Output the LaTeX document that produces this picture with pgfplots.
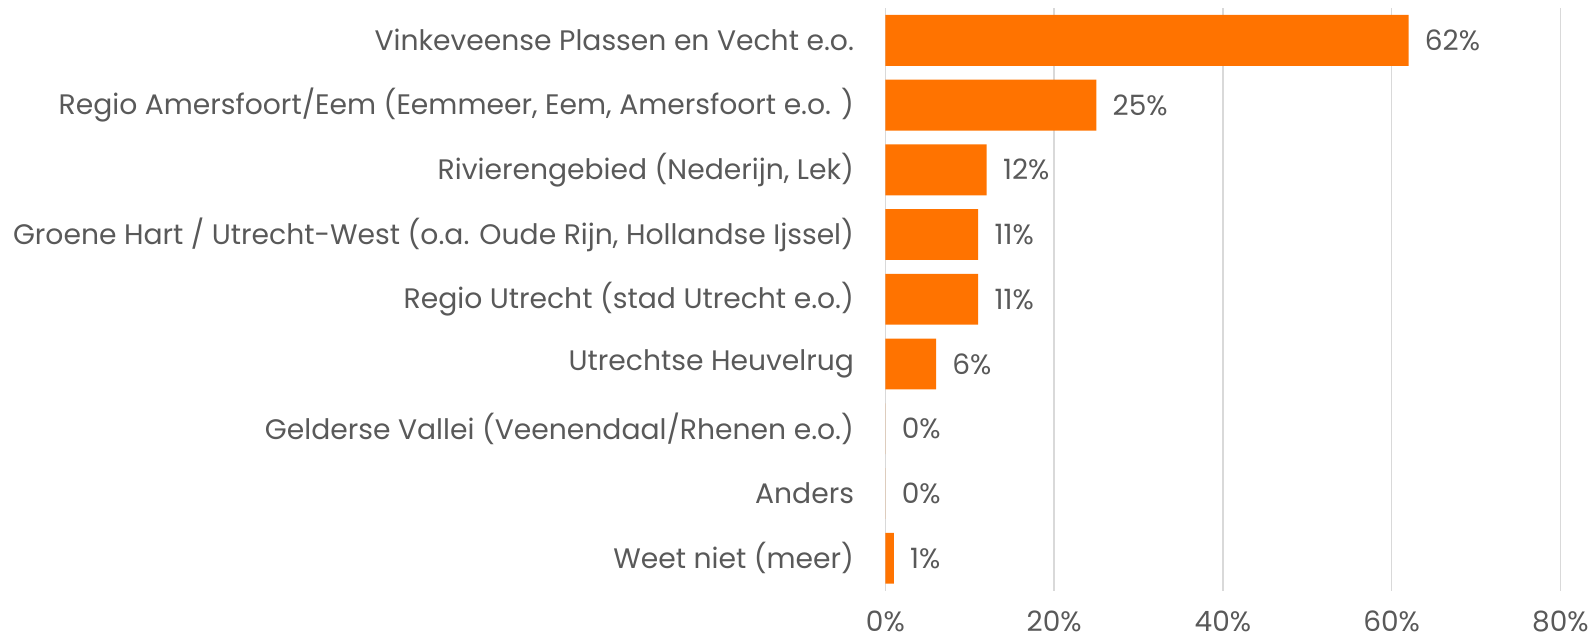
\documentclass[border=0pt]{standalone}
\usepackage{pgfplots}
\pgfplotsset{compat=1.18}
\usepackage{fontspec}
\setmainfont{Poppins}
\definecolor{barorange}{HTML}{FF7300}
\definecolor{txtgray}{HTML}{595959}
\definecolor{gridgray}{HTML}{D9D9D9}
\begin{document}
\begin{tikzpicture}
\begin{axis}[
  at={(0,0)}, anchor=south west,
  scale only axis, width=337.5pt, height=291.3pt,
  xbar, bar width=25.4pt,
  xmin=0, xmax=80, ymin=-0.5, ymax=8.5, y dir=reverse,
  axis line style={draw=none},
  xmajorgrids, grid style={gridgray, line width=0.8pt},
  xtick={0,20,40,60,80},
  ytick={0,...,8},
  major tick length=0pt,
  /pgf/number format/assume math mode=true,
  xticklabel={\pgfmathprintnumber{\tick}\%},
  yticklabels={Vinkeveense Plassen en Vecht e.o.,
    {Regio Amersfoort/Eem (Eemmeer, Eem, Amersfoort e.o. )},
    {Rivierengebied (Nederijn, Lek)},
    {Groene Hart / Utrecht-West (o.a. Oude Rijn, Hollandse Ijssel)},
    Regio Utrecht (stad Utrecht e.o.),
    Utrechtse Heuvelrug,
    Gelderse Vallei (Veenendaal/Rhenen e.o.),
    Anders,
    Weet niet (meer)},
  yticklabel style={font=\fontsize{14.1}{16}\selectfont, text=txtgray, inner sep=0pt, anchor=east, xshift=-15.5pt},
  xticklabel style={font=\fontsize{14}{16}\selectfont, text=txtgray, inner sep=0pt, anchor=north, yshift=-10pt},
  nodes near coords={\pgfmathprintnumber{\pgfplotspointmeta}\%},
  point meta=x,
  nodes near coords style={font=\fontsize{14}{16}\selectfont, text=txtgray, inner sep=0pt, anchor=west, xshift=8pt},
  clip=false,
]
\addplot[fill=barorange, draw=none] coordinates {
  (62,0) (25,1) (12,2) (11,3) (11,4) (6,5) (0,6) (0,7) (1,8)
};
\end{axis}
\pgfresetboundingbox
\path (-442.7pt,-25.7pt) rectangle (354.3pt,295.3pt);
\end{tikzpicture}
\end{document}
